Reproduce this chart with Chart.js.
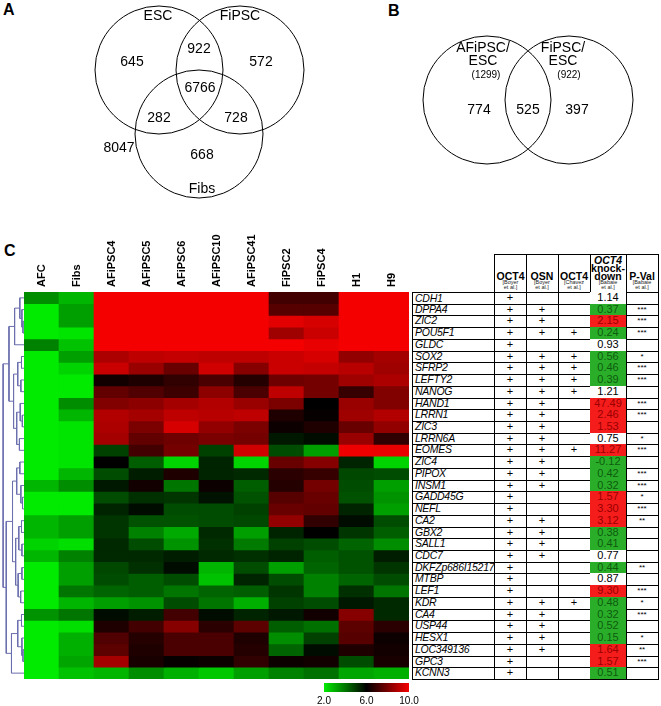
<!DOCTYPE html>
<html>
<head>
<meta charset="utf-8">
<script src="https://cdn.jsdelivr.net/npm/chart.js@4.4.1/dist/chart.umd.min.js"></script>
<style>
  body { margin: 0; background: #fff; font-family: Arial, "Liberation Sans", sans-serif; }
  #page { position: relative; width: 661px; height: 706px; overflow: hidden; }
  canvas { position: absolute; }
  .letter { position: absolute; font-weight: bold; font-size: 16px; line-height: 16px; }
  .cell { position: absolute; box-sizing: border-box; border-right: 1px solid #000; border-bottom: 1px solid #000;
          font-size: 11px; text-align: center; white-space: nowrap; overflow: hidden; color: #000; }
  .gene { text-align: left; font-style: italic; font-size: 10.5px; letter-spacing: -0.25px; padding-left: 2px; border-left: 1px solid #000; }
  .hdr { border-top: 1px solid #000; display: flex; flex-direction: column; justify-content: flex-end; align-items: center; padding-bottom: 3px; }
  .hdr b { font-size: 10.5px; line-height: 8px; }
  .hdr small { font-size: 5.5px; line-height: 4.5px; color: #222; }
  .star { font-size: 8px; }
</style>
</head>
<body>
<div id="page">
  <div class="letter" style="left:3px;top:2px">A</div>
  <div class="letter" style="left:388px;top:3px">B</div>
  <div class="letter" style="left:4px;top:243px">C</div>
  <canvas id="vennA" width="330" height="240" style="left:0;top:0"></canvas>
  <canvas id="vennB" width="331" height="200" style="left:330px;top:0"></canvas>
  <canvas id="dendro" width="24" height="387" style="left:0;top:292px"></canvas>
  <canvas id="heat" width="385" height="449" style="left:24px;top:230px"></canvas>
  <canvas id="cbar" width="140" height="26" style="left:300px;top:680px"></canvas>
  <div id="table"></div>
</div>
<script>
// ===== Data =====
const vennASets = ['ESC', 'FiPSC', 'Fibs'];
// ESC only, FiPSC only, Fibs only, ESC+FiPSC, ESC+Fibs, FiPSC+Fibs, all three, none
const vennACounts = [645, 572, 668, 922, 282, 728, 6766, 8047];

const vennBSets = [['AFiPSC/', 'ESC'], ['FiPSC/', 'ESC']];
const vennBTotals = [1299, 922];
// AFiPSC/ESC only, shared, FiPSC/ESC only
const vennBCounts = [774, 525, 397];

const samples = ['AFC', 'Fibs', 'AFiPSC4', 'AFiPSC5', 'AFiPSC6', 'AFiPSC10', 'AFiPSC41', 'FiPSC2', 'FiPSC4', 'H1', 'H9'];
const genes = ['CDH1', 'DPPA4', 'ZIC2', 'POU5F1', 'GLDC', 'SOX2', 'SFRP2', 'LEFTY2', 'NANOG', 'HAND1', 'LRRN1',
  'ZIC3', 'LRRN6A', 'EOMES', 'ZIC4', 'PIPOX', 'INSM1', 'GADD45G', 'NEFL', 'CA2', 'GBX2', 'SALL1', 'CDC7',
  'DKFZp686I15217', 'MTBP', 'LEF1', 'KDR', 'CA4', 'USP44', 'HESX1', 'LOC349136', 'GPC3', 'KCNN3'];

// log2 expression, one row per gene, columns in the order of samples
const expr = [
  [3.6, 2.9, 10, 10, 10, 10, 10, 7.1, 7.1, 10, 10],
  [2.0, 3.3, 10, 10, 10, 10, 10, 7.4, 7.4, 10, 10],
  [2.0, 3.3, 10, 10, 10, 10, 10, 9.7, 9.5, 10, 10],
  [2.0, 2.1, 10, 10, 10, 10, 10, 8.6, 9.3, 10, 10],
  [3.8, 2.7, 10, 10, 10, 10, 10, 10, 9.8, 10, 10],
  [2.0, 3.3, 8.8, 9.1, 9.2, 9.1, 9.1, 9.3, 9.5, 8.4, 8.7],
  [2.0, 2.4, 9.3, 8.5, 7.7, 9.4, 8.2, 9.3, 9.2, 9.0, 8.6],
  [2.0, 2.0, 6.3, 6.5, 6.8, 7.2, 6.6, 7.8, 7.9, 8.6, 8.8],
  [2.0, 2.0, 7.6, 7.3, 7.0, 8.3, 7.2, 9.1, 7.9, 6.9, 8.1],
  [2.0, 3.6, 8.1, 8.3, 8.7, 8.9, 8.5, 8.0, 6.0, 8.5, 8.1],
  [2.0, 2.9, 8.9, 8.7, 9.1, 9.0, 9.1, 6.5, 6.1, 8.6, 8.9],
  [2.0, 2.1, 8.8, 8.0, 9.5, 8.4, 8.0, 6.2, 6.5, 7.7, 8.4],
  [2.0, 2.1, 8.7, 7.6, 7.8, 8.0, 7.9, 5.6, 5.8, 8.5, 6.8],
  [2.0, 2.1, 4.9, 7.1, 7.9, 4.9, 9.4, 4.7, 3.3, 9.9, 9.8],
  [2.0, 2.1, 6.0, 4.4, 2.4, 5.4, 2.4, 7.7, 8.2, 5.4, 2.4],
  [2.0, 2.9, 4.7, 5.5, 6.5, 5.4, 5.3, 6.7, 6.9, 4.8, 4.7],
  [2.9, 3.6, 5.6, 6.3, 4.0, 6.2, 4.4, 6.6, 7.9, 4.7, 3.3],
  [2.0, 2.0, 4.7, 5.2, 5.1, 5.7, 4.6, 7.4, 7.7, 4.6, 3.5],
  [2.0, 2.0, 5.4, 5.8, 4.7, 4.7, 4.9, 7.7, 7.6, 5.4, 3.3],
  [2.9, 3.3, 5.1, 4.6, 4.6, 4.7, 4.8, 8.4, 6.8, 5.8, 4.7],
  [2.9, 3.3, 5.1, 3.8, 3.1, 5.3, 3.3, 5.4, 6.0, 5.1, 4.4],
  [2.4, 2.2, 5.3, 4.7, 3.5, 5.2, 3.9, 4.9, 4.7, 4.3, 3.6],
  [2.9, 3.8, 5.3, 5.3, 5.5, 5.3, 5.2, 5.4, 4.4, 4.6, 5.5],
  [2.0, 3.3, 4.8, 5.2, 5.8, 2.9, 4.7, 3.3, 4.3, 4.6, 5.1],
  [2.0, 3.3, 4.7, 4.4, 4.7, 2.7, 5.4, 4.7, 3.8, 4.3, 4.7],
  [2.0, 4.0, 4.3, 4.4, 4.0, 4.3, 4.4, 5.1, 3.8, 5.2, 4.0],
  [2.0, 2.9, 3.3, 3.5, 4.7, 4.0, 3.0, 4.9, 4.7, 5.6, 5.3],
  [3.5, 4.0, 5.8, 5.5, 7.1, 5.8, 5.4, 5.6, 6.3, 8.2, 5.3],
  [2.0, 2.2, 6.5, 7.1, 8.2, 6.7, 7.5, 4.4, 4.1, 7.5, 6.7],
  [2.0, 3.0, 7.3, 6.6, 7.2, 7.2, 6.5, 3.6, 4.9, 7.4, 6.2],
  [2.0, 3.0, 7.5, 6.5, 7.2, 7.2, 6.6, 4.3, 5.8, 6.5, 6.3],
  [2.0, 3.2, 8.7, 6.4, 6.1, 6.2, 6.8, 6.2, 6.3, 4.7, 6.4],
  [2.0, 2.7, 2.9, 3.6, 3.0, 2.6, 3.3, 3.8, 4.1, 3.2, 3.0]
];
const colorTicks = [2, 6, 10];

// row clustering: [merge height, left, right], leaves are row indices
const dendroTree =
  [1.0,
    [0.72,
      [0.45, [0.2, 0, [0.1, 1, [0.05, 2, 3]]], 4],
      [0.5,
        [0.3, [0.12, 5, 6], [0.15, 7, 8]],
        [0.35, [0.18, 9, [0.08, 10, 11]], [0.22, 12, 13]]]],
    [0.85,
      [0.55,
        [0.35, [0.2, 14, 15], [0.15, 16, [0.07, 17, 18]]],
        [0.4, [0.25, [0.12, 19, 20], [0.1, 21, 22]], [0.28, [0.1, 23, 24], [0.16, 25, 26]]]],
      [0.6, [0.3, [0.12, 27, 28], [0.1, 29, [0.05, 30, 31]]], 32]]];

// table columns
const oct4Boyer = genes.map(() => 1);
const osnBoyer = [0,1,1,1,0,1,1,1,1,1,1,1,1,1,1,1,1,0,0,1,1,1,1,0,0,0,1,1,1,1,1,0,0];
const oct4Chavez = [0,0,0,1,0,1,1,1,1,0,0,0,0,1,0,0,0,0,0,0,0,0,0,0,0,0,1,0,0,0,0,0,0];
const kdFold = [1.14, 0.37, 2.15, 0.24, 0.93, 0.56, 0.46, 0.39, 1.21, 47.49, 2.46, 1.53, 0.75, 11.27, -0.12,
  0.42, 0.32, 1.57, 3.30, 3.12, 0.38, 0.41, 0.77, 0.44, 0.87, 9.30, 0.48, 0.32, 0.52, 0.15, 1.64, 1.57, 0.51];
const kdClass = ['w','g','r','g','w','g','g','g','w','r','r','r','w','r','g','g','g','r','r','r','g','g','w',
  'g','w','r','g','g','g','g','r','r','g'];
const pVal = ['','***','***','***','','*','***','***','','***','***','','*','***','','***','***','*','***','**',
  '','','','**','','***','*','***','','*','**','***',''];

// ===== Helpers =====
const $ = (sel) => document.querySelector(sel);
const FONT = 'Arial, "Liberation Sans", sans-serif';

function heatColor(v) {
  const t = Math.max(-1, Math.min(1, (v - 6) / 4));
  if (t < 0) return `rgb(0,${Math.round(-t * 235)},0)`;
  return `rgb(${Math.round(t * 245)},0,0)`;
}

const baseOpts = {
  responsive: false, animation: false, events: [],
  plugins: { legend: { display: false }, tooltip: { enabled: false } },
  layout: { padding: 0, autoPadding: false }
};

// text labels drawn in data coordinates
const textPlugin = {
  id: 'vennText',
  afterDatasetsDraw(chart, args, opts) {
    const { ctx, scales: { x, y } } = chart;
    ctx.save();
    ctx.fillStyle = '#000';
    ctx.textAlign = 'center';
    ctx.textBaseline = 'middle';
    opts.items.forEach(it => {
      ctx.font = `${it.size || 14}px ${FONT}`;
      ctx.fillText(it.text, x.getPixelForValue(it.x), y.getPixelForValue(it.y));
    });
    ctx.restore();
  }
};

function vennChart(el, w, h, centers, items) {
  return new Chart(el, {
    type: 'scatter',
    data: { datasets: [{ data: centers.map(([x, y]) => ({ x, y })), pointRadius: 64,
      pointBorderColor: '#000', pointBackgroundColor: 'rgba(0,0,0,0)', pointBorderWidth: 1, clip: false }] },
    options: { ...baseOpts,
      plugins: { ...baseOpts.plugins, vennText: { items } },
      scales: { x: { type: 'linear', min: 0, max: w, display: false },
                y: { type: 'linear', min: 0, max: h, reverse: true, display: false } } },
    plugins: [textPlugin]
  });
}

// ===== Venn A =====
const posA = { sets: [[158, 16], [240, 16], [202, 189]],
  counts: [[132, 62], [261, 62], [202, 155], [199, 49], [159, 118], [236, 118], [200, 88], [119, 148]] };
vennChart($('#vennA'), 330, 240, [[159, 70], [240, 70], [199, 134]], [
  ...vennASets.map((s, i) => ({ text: s, x: posA.sets[i][0], y: posA.sets[i][1] })),
  ...vennACounts.map((c, i) => ({ text: String(c), x: posA.counts[i][0], y: posA.counts[i][1] }))
]);

// ===== Venn B =====
const posB = { sets: [[153, 48], [233, 48]], totals: [[156, 75], [239, 75]], counts: [[149, 110], [198, 110], [247, 110]] };
vennChart($('#vennB'), 331, 200, [[157, 100], [239, 100]], [
  ...vennBSets.flatMap((s, i) => s.map((line, k) => ({ text: line, x: posB.sets[i][0], y: posB.sets[i][1] + k * 13 }))),
  ...vennBTotals.map((t, i) => ({ text: `(${t})`, x: posB.totals[i][0], y: posB.totals[i][1], size: 10 })),
  ...vennBCounts.map((c, i) => ({ text: String(c), x: posB.counts[i][0], y: posB.counts[i][1] }))
]);

// ===== Heatmap =====
// sample names, rotated, read off the category scale
const colLabels = {
  id: 'colLabels',
  afterDraw(chart) {
    const { ctx, chartArea, scales: { x } } = chart;
    ctx.save();
    ctx.font = `bold 11px ${FONT}`;
    ctx.fillStyle = '#000';
    ctx.textAlign = 'left';
    ctx.textBaseline = 'middle';
    chart.data.labels.forEach((lab, i) => {
      ctx.save();
      ctx.translate(x.getPixelForValue(i), chartArea.top - 5);
      ctx.rotate(-Math.PI / 2);
      ctx.fillText(lab, 0, 0);
      ctx.restore();
    });
    ctx.restore();
  }
};
new Chart($('#heat'), {
  type: 'bar',
  data: {
    labels: samples,
    datasets: genes.map((g, i) => ({
      label: g, data: samples.map(() => 1), backgroundColor: expr[i].map(heatColor),
      stack: 'rows', barPercentage: 1, categoryPercentage: 1, borderWidth: 0
    }))
  },
  options: { ...baseOpts,
    layout: { padding: { top: 62 }, autoPadding: false },
    scales: {
      x: { stacked: true, display: false },
      y: { stacked: true, reverse: true, min: 0, max: genes.length, display: false }
    }
  },
  plugins: [colLabels]
});

// ===== Dendrogram =====
const dendroSets = [];
function walk(node) {
  if (typeof node === 'number') return { y: node + 0.5, h: 0 };
  const [h, l, r] = node;
  const a = walk(l), b = walk(r);
  dendroSets.push({ data: [{ x: a.h, y: a.y }, { x: h, y: a.y }, { x: h, y: b.y }, { x: b.h, y: b.y }],
    showLine: true, borderColor: '#6b6fae', borderWidth: 1, pointRadius: 0, clip: false });
  return { y: (a.y + b.y) / 2, h };
}
walk(dendroTree);
new Chart($('#dendro'), {
  type: 'scatter',
  data: { datasets: dendroSets },
  options: { ...baseOpts,
    scales: { x: { type: 'linear', min: 0, max: 1.15, reverse: true, display: false },
              y: { type: 'linear', min: 0, max: genes.length, reverse: true, display: false } } }
});

// ===== Colour bar =====
new Chart($('#cbar'), {
  type: 'bar',
  data: { labels: [''], datasets: [{ data: [[colorTicks[0], colorTicks[2]]], barPercentage: 1, categoryPercentage: 1,
    borderWidth: 0,
    backgroundColor(c) {
      const a = c.chart.chartArea;
      if (!a) return '#000';
      const g = c.chart.ctx.createLinearGradient(a.left, 0, a.right, 0);
      colorTicks.forEach((v, i) => g.addColorStop(i / (colorTicks.length - 1), heatColor(v)));
      return g;
    } }] },
  options: { ...baseOpts, indexAxis: 'y',
    layout: { padding: { left: 24, right: 31, top: 3 }, autoPadding: false },
    scales: {
      x: { type: 'linear', min: 2, max: 10, grid: { display: false, drawTicks: false }, border: { display: false },
           afterBuildTicks(s) { s.ticks = colorTicks.map(v => ({ value: v })); },
           ticks: { color: '#000', padding: 3, font: { family: FONT, size: 10 }, callback: v => v.toFixed(1) },
           afterFit(s) { s.height = 14; } },
      y: { display: false }
    }
  }
});

// ===== Table =====
const colX = [412, 494, 526, 558, 590, 626, 658];
const top0 = 292, rowH = 387 / genes.length;
const tbl = $('#table');
function cell(c, y, h, cls, html, style) {
  const d = document.createElement('div');
  d.className = 'cell ' + (cls || '');
  d.style.cssText = `left:${colX[c]}px;top:${y}px;width:${colX[c + 1] - colX[c] + 1}px;height:${h + 1}px;` + (style || '');
  d.innerHTML = html;
  tbl.appendChild(d);
}
const headers = [
  '<b>OCT4</b><small>[Boyer</small><small>et al.]</small>',
  '<b>OSN</b><small>[Boyer</small><small>et al.]</small>',
  '<b>OCT4</b><small>[Chavez</small><small>et al.]</small>',
  '<b><i>OCT4</i></b><b>knock-</b><b>down</b><small>[Babaie</small><small>et al.]</small>',
  '<b>P-Val</b><small>[Babaie</small><small>et al.]</small>'
];
headers.forEach((h, i) => cell(i + 1, 254, top0 - 254, 'hdr', h, i === 0 ? 'border-left:1px solid #000;' : ''));
const kdBg = { w: '#fff', g: '#2aae2a', r: '#f51c1c' };
const kdFg = { w: '#000', g: '#0d5c0d', r: '#9a0000' };
genes.forEach((g, i) => {
  const y = top0 + i * rowH;
  const lh = `line-height:${rowH}px;`;
  cell(0, y, rowH, 'gene', g, lh + (i === 0 ? 'border-top:1px solid #000;' : ''));
  cell(1, y, rowH, '', oct4Boyer[i] ? '+' : '', lh);
  cell(2, y, rowH, '', osnBoyer[i] ? '+' : '', lh);
  cell(3, y, rowH, '', oct4Chavez[i] ? '+' : '', lh);
  cell(4, y, rowH, '', kdFold[i].toFixed(2), lh + `background:${kdBg[kdClass[i]]};color:${kdFg[kdClass[i]]};`);
  cell(5, y, rowH, 'star', pVal[i], lh);
});
</script>
</body>
</html>
